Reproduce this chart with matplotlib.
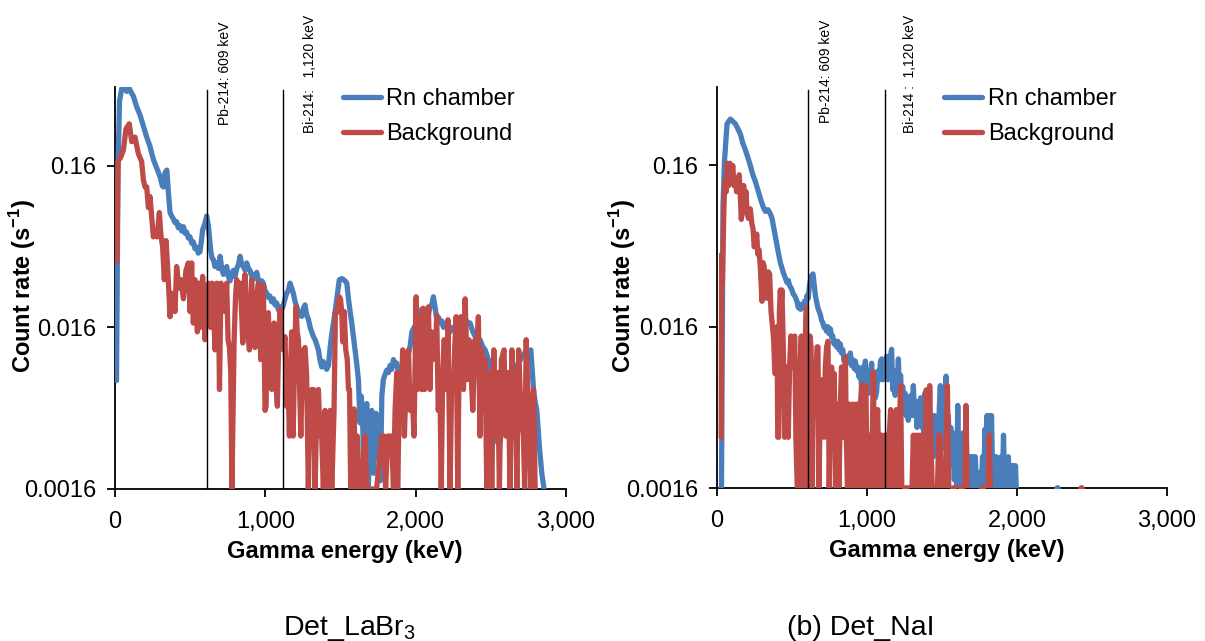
import numpy as np
import matplotlib
matplotlib.use("Agg")
import matplotlib.pyplot as plt
import matplotlib.transforms as mtransforms
from matplotlib.ticker import FixedLocator, FixedFormatter, NullLocator

plt.rcParams["font.family"] = ["Liberation Sans", "DejaVu Sans"]
plt.rcParams["mathtext.fontset"] = "custom"
plt.rcParams["mathtext.rm"] = "Liberation Sans"
plt.rcParams["mathtext.bf"] = "Liberation Sans:bold"

BLUE = "#4A7EBB"
RED = "#BE4B48"

# ---------------------------------------------------------------- axes / text
x_ticks = [0, 1000, 2000, 3000]
x_tick_labels = ["0", "1,000", "2,000", "3,000"]
y_ticks = [0.0016, 0.016, 0.16]
y_tick_labels = ["0.0016", "0.016", "0.16"]
series_names = ["Rn chamber", "Background"]
peak_energies = [609, 1120]  # keV, Pb-214 and Bi-214 lines
peak_labels_a = ["Pb-214: 609 keV", "Bi-214:   1,120 keV"]
peak_labels_b = ["Pb-214: 609 keV", "Bi-214 :  1,120 keV"]
panel_titles = ["Det_LaBr$_3$", "(b) Det_NaI"]
x_label = "Gamma energy (keV)"
y_label = r"Count rate (s$^{\mathbf{-1}}$)"

# ---------------------------------------------------------------- spectra
# (energy keV, count rate s^-1); None marks an empty channel
rn_labr = [
    (10, 0.0075), (20, 0.15), (30, 0.40), (45, 0.48), (60, 0.49), (78, 0.46),
    (95, 0.48), (110, 0.45), (122, 0.43), (144, 0.37), (166, 0.33), (189, 0.28),
    (211, 0.24), (233, 0.21), (255, 0.175), (277, 0.155), (299, 0.137),
    (315, 0.12), (322, 0.118), (333, 0.145), (345, 0.15), (355, 0.11),
    (366, 0.082), (377, 0.078), (388, 0.075), (399, 0.071), (410, 0.072),
    (421, 0.066), (432, 0.068), (444, 0.063), (455, 0.067), (466, 0.061),
    (477, 0.062), (488, 0.057), (499, 0.058), (510, 0.053), (521, 0.054),
    (532, 0.049), (543, 0.050), (554, 0.046), (565, 0.047), (575, 0.055),
    (583, 0.064), (598, 0.070), (610, 0.078), (621, 0.068), (636, 0.048),
    (645, 0.043), (654, 0.042), (665, 0.038), (677, 0.040), (688, 0.037),
    (699, 0.044), (710, 0.037), (721, 0.034), (732, 0.036), (743, 0.038),
    (754, 0.033), (765, 0.031), (776, 0.034), (787, 0.036), (798, 0.033),
    (810, 0.037), (821, 0.039), (832, 0.044), (843, 0.039), (854, 0.038),
    (865, 0.036), (876, 0.040), (887, 0.037), (898, 0.036), (909, 0.033),
    (920, 0.034), (931, 0.032), (943, 0.035), (954, 0.031), (965, 0.030),
    (976, 0.031), (987, 0.030), (998, 0.027), (1009, 0.026), (1020, 0.0245),
    (1030, 0.025), (1042, 0.023), (1054, 0.024), (1065, 0.022), (1076, 0.0226),
    (1087, 0.0205), (1098, 0.0214), (1109, 0.0205), (1120, 0.022),
    (1131, 0.024), (1142, 0.026), (1153, 0.027), (1164, 0.030), (1175, 0.028),
    (1186, 0.026), (1198, 0.023), (1209, 0.0214), (1220, 0.0195), (1230, 0.019),
    (1242, 0.0187), (1253, 0.021), (1264, 0.022), (1275, 0.019), (1286, 0.018),
    (1298, 0.016), (1309, 0.015), (1320, 0.014), (1331, 0.0134), (1342, 0.0125),
    (1353, 0.0116), (1364, 0.010), (1375, 0.0091), (1386, 0.0098),
    (1397, 0.0092), (1408, 0.0088), (1420, 0.0093), (1431, 0.012),
    (1442, 0.0145), (1453, 0.017), (1464, 0.020), (1475, 0.024),
    (1492, 0.0315), (1510, 0.032), (1530, 0.031), (1542, 0.030), (1553, 0.024),
    (1564, 0.020), (1575, 0.017), (1586, 0.014), (1597, 0.0116), (1608, 0.0095),
    (1619, 0.0076), (1630, 0.0041), (1638, 0.006), (1646, 0.0049),
    (1655, 0.002), (1665, 0.0045), (1675, 0.0054), (1685, 0.0016),
    (1697, 0.0045), (1708, 0.0049), (1714, 0.0025), (1720, 0.002),
    (1728, 0.0038), (1736, 0.0047), (1744, 0.0025), (1752, 0.0034),
    (1765, 0.0018), (1775, 0.006), (1785, 0.0076), (1797, 0.0082),
    (1808, 0.0087), (1819, 0.0084), (1830, 0.0093), (1841, 0.0088),
    (1852, 0.0101), (1863, 0.0094), (1874, 0.0096), (1885, 0.0085),
    (1896, 0.0079), (1908, 0.0088), (1919, 0.0095), (1930, 0.0092),
    (1941, 0.0105), (1952, 0.011), (1963, 0.0122), (1975, 0.015),
    (1990, 0.016), (2007, 0.017), (2023, 0.019), (2040, 0.0207), (2055, 0.019),
    (2069, 0.020), (2083, 0.019), (2096, 0.0214), (2107, 0.022), (2118, 0.0247),
    (2130, 0.021), (2140, 0.018), (2151, 0.0185), (2162, 0.017), (2174, 0.0175),
    (2185, 0.016), (2196, 0.0168), (2207, 0.016), (2218, 0.0155), (2229, 0.015),
    (2245, 0.016), (2262, 0.0155), (2278, 0.0165), (2295, 0.017),
    (2312, 0.0168), (2329, 0.0178), (2345, 0.0172), (2362, 0.017),
    (2378, 0.0152), (2395, 0.0141), (2411, 0.0138), (2428, 0.0134),
    (2445, 0.0122), (2462, 0.0116), (2478, 0.0105), (2495, 0.0093),
    (2510, 0.0066), (2528, 0.0041), (2545, 0.0031), (2561, 0.0031),
    (2580, 0.0041), (2593, 0.0048), (2606, 0.0052), (2622, 0.0058),
    (2639, 0.0066), (2656, 0.0082), (2673, 0.0093), (2690, 0.0098),
    (2706, 0.0105), (2722, 0.011), (2739, 0.0116), (2752, 0.0112),
    (2766, 0.0116), (2784, 0.0066), (2795, 0.0055), (2806, 0.0049),
    (2822, 0.003), (2839, 0.002), (2854, 0.0016),
]

bg_labr = [
    (13, 0.041), (20, 0.17), (38, 0.18), (56, 0.20), (73, 0.27), (95, 0.29),
    (111, 0.225), (133, 0.24), (155, 0.19), (177, 0.17), (189, 0.13),
    (200, 0.118), (211, 0.118), (222, 0.088), (233, 0.103), (244, 0.077),
    (255, 0.058), (266, 0.062), (280, 0.058), (295, 0.082), (305, 0.06),
    (317, 0.050), (328, 0.0315), (339, 0.055), (350, 0.038), (366, 0.0186),
    (377, 0.026), (388, 0.024), (399, 0.02), (410, 0.038), (426, 0.028),
    (439, 0.0315), (455, 0.024), (472, 0.036), (488, 0.040), (499, 0.02),
    (510, 0.040), (521, 0.017), (532, 0.0315), (548, 0.015), (560, 0.030),
    (568, 0.016), (583, 0.033), (599, 0.0134), (610, 0.025), (621, 0.030),
    (636, 0.016), (645, 0.030), (654, 0.024), (665, 0.0116), (677, 0.03),
    (687, 0.028), (695, 0.0066), (705, 0.03), (721, 0.028), (732, 0.02),
    (743, 0.030), (752, 0.0134), (761, 0.0121), (770, 0.0084), (778, 0.0016),
    (792, 0.013), (802, 0.025), (810, 0.0315), (821, 0.025), (832, 0.030),
    (842, 0.02), (850, 0.0128), (858, 0.03), (865, 0.034), (876, 0.02),
    (887, 0.014), (894, 0.0116), (909, 0.0315), (920, 0.0165), (931, 0.012),
    (942, 0.025), (954, 0.030), (962, 0.02), (969, 0.0101), (978, 0.025),
    (987, 0.029), (998, 0.0049), (1005, 0.0052), (1012, 0.015), (1020, 0.0197),
    (1032, 0.008), (1043, 0.0066), (1050, 0.012), (1058, 0.017), (1068, 0.008),
    (1080, 0.0052), (1090, 0.015), (1098, 0.0207), (1109, 0.012),
    (1120, 0.0116), (1131, 0.014), (1142, 0.0052), (1150, 0.008),
    (1160, 0.0034), (1168, 0.009), (1175, 0.015), (1185, 0.0034),
    (1196, 0.012), (1204, 0.0214), (1212, 0.015), (1220, 0.0134),
    (1228, 0.0066), (1236, 0.0034), (1245, 0.008), (1253, 0.0116),
    (1264, 0.012), (1275, 0.008), (1286, 0.0016), (1298, 0.006),
    (1309, 0.0066), (1320, 0.0066), (1331, 0.0016), (1342, 0.0049),
    (1353, 0.0066), (1364, 0.0034), (1375, 0.0034), (1386, 0.0016),
    (1397, 0.0049), (1410, 0.0016), (1420, 0.0034), (1431, 0.0049),
    (1442, 0.0016), (1457, 0.0049), (1466, 0.0197), (1475, 0.0197),
    (1485, 0.022), (1492, 0.0247), (1500, 0.024), (1508, 0.02), (1515, 0.013),
    (1525, 0.02), (1535, 0.0116), (1545, 0.0101), (1553, 0.0066),
    (1560, 0.0066), (1568, 0.0016), (1575, 0.0016), (1590, 0.005),
    (1600, 0.0016), (1612, 0.0034), (1625, 0.0016), (1640, 0.0016),
    (1663, 0.0034), (1675, 0.0016), (1700, 0.0016), (1740, 0.0016),
    (1774, 0.0034), (1790, 0.0034), (1800, 0.0016), (1815, 0.0034),
    (1830, 0.0034), (1840, 0.0034), (1852, 0.0016), (1863, 0.0049),
    (1874, 0.0084), (1880, 0.0016), (1890, 0.0049), (1900, 0.0049),
    (1914, 0.0116), (1925, 0.0034), (1935, 0.0066), (1952, 0.0116),
    (1963, 0.0049), (1975, 0.0066), (1989, 0.0034), (2003, 0.0247),
    (2012, 0.0066), (2020, 0.012), (2029, 0.0186), (2040, 0.0066),
    (2050, 0.021), (2060, 0.0066), (2072, 0.012), (2085, 0.0214),
    (2095, 0.0066), (2105, 0.015), (2118, 0.0134), (2130, 0.0101),
    (2140, 0.019), (2150, 0.0049), (2162, 0.0066), (2170, 0.0016),
    (2180, 0.0084), (2189, 0.0134), (2198, 0.012), (2207, 0.0066),
    (2215, 0.0178), (2229, 0.0016), (2240, 0.008), (2251, 0.0066),
    (2260, 0.012), (2269, 0.0186), (2280, 0.0016), (2290, 0.012),
    (2300, 0.0186), (2310, 0.008), (2318, 0.0066), (2329, 0.024),
    (2338, 0.012), (2347, 0.0076), (2355, 0.0134), (2365, 0.0101),
    (2380, 0.0049), (2395, 0.0134), (2405, 0.0101), (2417, 0.0186),
    (2428, 0.0034), (2439, 0.0116), (2450, 0.0049), (2462, 0.0101),
    (2473, 0.0016), (2485, 0.0034), (2495, 0.0084), (2506, 0.0016),
    (2520, 0.0116), (2530, 0.0034), (2545, 0.0084), (2557, 0.0016),
    (2570, 0.0101), (2588, 0.0116), (2600, 0.0034), (2615, 0.0084),
    (2628, 0.0016), (2640, 0.0116), (2652, 0.0034), (2662, 0.0084),
    (2673, 0.0016), (2685, 0.0116), (2700, 0.0049), (2717, 0.0034),
    (2725, 0.0016), (2735, 0.0134), (2745, 0.0066), (2755, 0.0034),
    (2766, 0.0016), (2775, 0.0049), (2784, 0.0066), (2795, 0.0016),
]

rn_nai = [
    (30, 0.0016), (40, 0.09), (50, 0.17), (67, 0.29), (89, 0.31), (105, 0.30),
    (122, 0.29), (139, 0.27), (156, 0.25), (172, 0.22), (189, 0.20),
    (205, 0.18), (222, 0.16), (239, 0.14), (256, 0.127), (272, 0.113),
    (289, 0.10), (305, 0.09), (322, 0.083), (340, 0.085), (356, 0.08),
    (367, 0.075), (378, 0.066), (389, 0.058), (400, 0.051), (411, 0.045),
    (422, 0.040), (433, 0.037), (445, 0.034), (456, 0.032), (467, 0.030),
    (475, 0.031), (483, 0.029), (492, 0.028), (500, 0.027), (508, 0.0255),
    (517, 0.025), (525, 0.024), (533, 0.023), (542, 0.021), (550, 0.022),
    (558, 0.0205), (567, 0.022), (575, 0.021), (583, 0.023), (592, 0.022),
    (600, 0.025), (608, 0.024), (615, 0.028), (622, 0.031), (629, 0.033),
    (640, 0.034), (648, 0.029), (656, 0.025), (664, 0.023), (672, 0.021),
    (680, 0.020), (689, 0.019), (697, 0.0175), (705, 0.017), (714, 0.0158),
    (722, 0.016), (730, 0.015), (739, 0.016), (747, 0.0145), (756, 0.0155),
    (764, 0.0138), (772, 0.014), (780, 0.0125), (789, 0.013), (797, 0.012),
    (805, 0.013), (814, 0.0115), (822, 0.0125), (830, 0.011), (839, 0.0115),
    (847, 0.0098), (856, 0.0104), (864, 0.0095), (872, 0.0105),
    (880, 0.0096), (889, 0.011), (897, 0.0092), (905, 0.010), (914, 0.0088),
    (922, 0.0098), (930, 0.0085), (939, 0.009), (947, 0.0078), (956, 0.0086),
    (965, 0.0065), (972, 0.009), (980, 0.0068), (989, 0.0098), (997, 0.007),
    (1005, 0.0085), (1014, 0.0062), (1022, 0.0078), (1031, 0.0095),
    (1040, 0.007), (1048, 0.0075), (1056, 0.0058), (1064, 0.0063),
    (1072, 0.0085), (1081, 0.0075), (1090, 0.0098), (1098, 0.0101),
    (1106, 0.0075), (1115, 0.0095), (1123, 0.008), (1131, 0.0105),
    (1140, 0.0075), (1148, 0.009), (1156, 0.0105), (1164, 0.0116),
    (1172, 0.0065), (1180, 0.008), (1188, 0.006), (1195, 0.0085),
    (1202, 0.0068), (1209, 0.0101), (1216, 0.0065), (1224, 0.008),
    (1231, 0.0058), (1238, 0.0068), (1245, 0.005), (1253, 0.0062),
    (1260, 0.0045), (1268, 0.0058), (1275, 0.0042), (1283, 0.0052),
    (1292, 0.006), (1300, 0.0045), (1309, 0.0069), (1317, 0.0045),
    (1325, 0.0055), (1333, 0.0038), (1342, 0.0055), (1350, 0.004),
    (1358, 0.0058), (1366, 0.0038), (1373, 0.0052), (1380, 0.0035),
    (1387, 0.0062), (1394, 0.004), (1402, 0.005), (1410, 0.0032),
    (1418, 0.0042), (1426, 0.0028), (1434, 0.004), (1442, 0.0025),
    (1450, 0.0045), (1458, 0.003), (1466, 0.004), (1474, 0.0028),
    (1482, 0.005), (1489, 0.0069), (1496, 0.0035), (1504, 0.0045),
    (1512, 0.0028), (1520, 0.0055), (1527, 0.0079), (1534, 0.0038),
    (1542, 0.0045), (1550, 0.0025), (1558, 0.0038), (1566, 0.0022),
    (1575, 0.0035), (1582, 0.0018), (1590, 0.0034), (1598, 0.0016),
    (1605, 0.0052), (1612, 0.0018), (1620, 0.0028), (1628, 0.0016),
    (1636, 0.0035), (1644, 0.0016), (1652, 0.0028), (1660, 0.0045),
    (1667, 0.0016), (1675, 0.0025), (1683, 0.0016), (1691, 0.0025),
    (1698, 0.0016), (1706, 0.0025), (1714, 0.0016), (1722, 0.0025),
    (1730, 0.0016), (1738, 0.002), (1746, 0.0016), (1754, 0.002),
    (1762, 0.0016), (1770, 0.0025), (1778, 0.0016), (1786, 0.0037),
    (1793, 0.002), (1800, 0.0045), (1808, 0.0022), (1815, 0.0045),
    (1822, 0.0025), (1830, 0.0045), (1838, 0.0018), (1846, 0.0025),
    (1854, 0.0016), (1862, 0.0025), (1870, 0.0016), (1878, 0.002),
    (1886, 0.0016), (1894, 0.0025), (1902, 0.0016), (1910, 0.0034),
    (1918, 0.0016), (1926, 0.0022), (1934, 0.0016), (1942, 0.0025),
    (1950, 0.0016), (1958, 0.0022), (1966, 0.0016), (1974, 0.0022),
    (1982, 0.0016), (1990, 0.0022), (1995, 0.0016), (2000, None),
    (2264, 0.0016),
]

bg_nai = [
    (28, 0.0033), (31, 0.045), (36, 0.03), (42, 0.06), (48, 0.10), (55, 0.13),
    (62, 0.11), (70, 0.165), (78, 0.12), (86, 0.165), (95, 0.125), (105, 0.16),
    (113, 0.12), (122, 0.13), (130, 0.11), (140, 0.11), (148, 0.14),
    (156, 0.10), (162, 0.074), (170, 0.09), (178, 0.12), (186, 0.09),
    (194, 0.11), (200, 0.08), (210, 0.075), (222, 0.086), (232, 0.07),
    (240, 0.065), (248, 0.05), (256, 0.053), (265, 0.06), (272, 0.045),
    (280, 0.048), (289, 0.037), (300, 0.023), (306, 0.040), (314, 0.038),
    (322, 0.03), (333, 0.024), (342, 0.035), (351, 0.034), (360, 0.02),
    (370, 0.016), (378, 0.013), (386, 0.0082), (393, 0.0082), (400, 0.016),
    (405, 0.0033), (411, 0.0033), (416, 0.02), (422, 0.027), (428, 0.022),
    (433, 0.027), (442, 0.012), (451, 0.0033), (459, 0.009), (467, 0.009),
    (475, 0.0033), (484, 0.009), (492, 0.014), (500, 0.009), (509, 0.013),
    (518, 0.014), (526, 0.0033), (535, 0.0016), (544, 0.0016), (553, 0.009),
    (562, 0.014), (570, 0.0016), (580, 0.0033), (590, 0.015), (596, 0.021),
    (603, 0.0016), (612, 0.009), (620, 0.014), (627, 0.012), (635, 0.0016),
    (645, 0.009), (653, 0.0082), (660, 0.0082), (667, 0.012), (673, 0.012),
    (680, 0.0016), (688, 0.005), (697, 0.0075), (707, 0.0075), (714, 0.0033),
    (722, 0.009), (731, 0.012), (740, 0.013), (748, 0.0016), (756, 0.005),
    (764, 0.009), (773, 0.0053), (781, 0.0082), (790, 0.0016), (798, 0.005),
    (806, 0.0053), (814, 0.0016), (822, 0.0053), (830, 0.009), (838, 0.0053),
    (846, 0.0033), (856, 0.0104), (862, 0.0033), (870, 0.0016), (880, 0.0053),
    (890, 0.0016), (898, 0.0016), (906, 0.0053), (914, 0.0016), (922, 0.0016),
    (930, 0.0053), (938, 0.0033), (948, 0.0016), (956, 0.0053), (964, 0.0069),
    (970, 0.007), (978, 0.0016), (986, 0.0053), (993, 0.0069), (1000, 0.0016),
    (1008, 0.0033), (1020, 0.0034), (1030, 0.0016), (1042, 0.0084),
    (1052, 0.0016), (1062, 0.0033), (1071, 0.0049), (1080, 0.0016),
    (1090, 0.0034), (1098, 0.0034), (1110, 0.0016), (1118, 0.0034),
    (1127, 0.0034), (1138, 0.0016), (1148, 0.0034), (1158, 0.0049),
    (1168, 0.0016), (1180, 0.0034), (1196, 0.0049), (1205, 0.0016),
    (1215, 0.0034), (1224, 0.0069), (1232, 0.0016), (1242, None),
    (1250, 0.0016), (1258, None), (1268, 0.0016), (1276, 0.0016),
    (1284, None), (1292, 0.0016), (1300, 0.0016), (1309, 0.0034),
    (1318, 0.0016), (1326, 0.0034), (1334, 0.0016), (1342, 0.0034),
    (1350, 0.0016), (1360, 0.0034), (1368, 0.0016), (1376, 0.0034),
    (1385, 0.0016), (1395, 0.0065), (1405, 0.0016), (1418, 0.0069),
    (1425, 0.0034), (1435, 0.0016), (1445, 0.0016), (1452, None),
    (1462, 0.0016), (1470, 0.0016), (1478, 0.0034), (1487, 0.0034),
    (1495, 0.0016), (1505, 0.0016), (1515, None), (1522, 0.0016),
    (1536, 0.0069), (1545, 0.0016), (1552, 0.0016), (1560, None),
    (1575, 0.0016), (1582, None), (1598, 0.0016), (1604, 0.0016),
    (1612, None), (1628, 0.0016), (1636, None), (1652, 0.0016),
    (1660, 0.0052), (1668, 0.0016), (1676, None), (1764, 0.0016),
    (1770, None), (1806, 0.0016), (1815, 0.0034), (1822, 0.0016),
    (1830, None), (2427, 0.0016),
]


def unpack(points):
    e = np.array([p[0] for p in points], dtype=float)
    v = np.array([np.nan if p[1] is None else p[1] for p in points], dtype=float)
    return e, v


def draw_spectrum(ax, points, color, name):
    e, v = unpack(points)
    ax.plot(e, v, color=color, lw=3.8, solid_capstyle="round",
            solid_joinstyle="round", label=name, zorder=3)
    # single channels between empty ones still show up as dots
    ok = np.isfinite(v)
    prev_ok = np.r_[False, ok[:-1]]
    next_ok = np.r_[ok[1:], False]
    lone = ok & ~prev_ok & ~next_ok
    if lone.any():
        ax.plot(e[lone], v[lone], "o", color=color, ms=4.8, mew=0, zorder=3)


def style_axes(ax):
    ax.set_yscale("log")
    ax.set_xlim(0, 3000)
    ax.set_ylim(0.0016, 0.49)
    ax.xaxis.set_major_locator(FixedLocator(x_ticks))
    ax.xaxis.set_major_formatter(FixedFormatter(x_tick_labels))
    ax.yaxis.set_major_locator(FixedLocator(y_ticks))
    ax.yaxis.set_major_formatter(FixedFormatter(y_tick_labels))
    ax.yaxis.set_minor_locator(NullLocator())
    ax.xaxis.set_minor_locator(NullLocator())
    for side in ("top", "right"):
        ax.spines[side].set_visible(False)
    for side in ("left", "bottom"):
        ax.spines[side].set_linewidth(1.3)
        ax.spines[side].set_color("black")
    ax.tick_params(axis="both", direction="out", length=5.5, width=1.3,
                   labelsize=17, colors="black")
    ax.tick_params(axis="x", pad=10)
    ax.tick_params(axis="y", pad=8)
    ax.set_xlabel(x_label, fontsize=17, fontweight="bold")
    ax.set_ylabel(y_label, fontsize=17, fontweight="bold")
    ax.set_facecolor("none")


W, H = 1205, 641
fig = plt.figure(figsize=(W / 100, H / 100), dpi=100)
ax_a = fig.add_axes([115 / W, (H - 489) / H, 451 / W, 402 / H])
ax_b = fig.add_axes([717 / W, (H - 488) / H, 450 / W, 401 / H])

panels = [
    (ax_a, rn_labr, bg_labr, peak_labels_a, [(732, 1.162), (1297, 1.179)], -0.17),
    (ax_b, rn_nai, bg_nai, peak_labels_b, [(727, 1.167), (1287, 1.18)], -0.175),
]

for ax, rn, bg, plabels, ppos, ylab_x in panels:
    style_axes(ax)
    draw_spectrum(ax, rn, BLUE, series_names[0])
    draw_spectrum(ax, bg, RED, series_names[1])
    for energy in peak_energies:
        ax.axvline(energy, ymin=0, ymax=0.992, color="black", lw=1.0, zorder=4)
    trans = mtransforms.blended_transform_factory(ax.transData, ax.transAxes)
    for text, (px, py) in zip(plabels, ppos):
        ax.text(px, py, text, rotation=90, transform=trans, ha="center",
                va="top", fontsize=10, clip_on=False)
    ax.xaxis.set_label_coords(0.51, -0.128)
    ax.yaxis.set_label_coords(ylab_x, 0.505)
    ax.legend(loc="upper left", bbox_to_anchor=(0.505, 0.997), frameon=False,
              fontsize=17, handlelength=1.6, handletextpad=0.25,
              labelspacing=0.56, borderpad=0, borderaxespad=0)

fig.text(349 / W, (H - 635) / H, panel_titles[0], ha="center", va="baseline",
         fontsize=20.5)
fig.text(861 / W, (H - 635) / H, panel_titles[1], ha="center", va="baseline",
         fontsize=20.5)

fig.savefig("out.png", dpi=100, facecolor="white")
